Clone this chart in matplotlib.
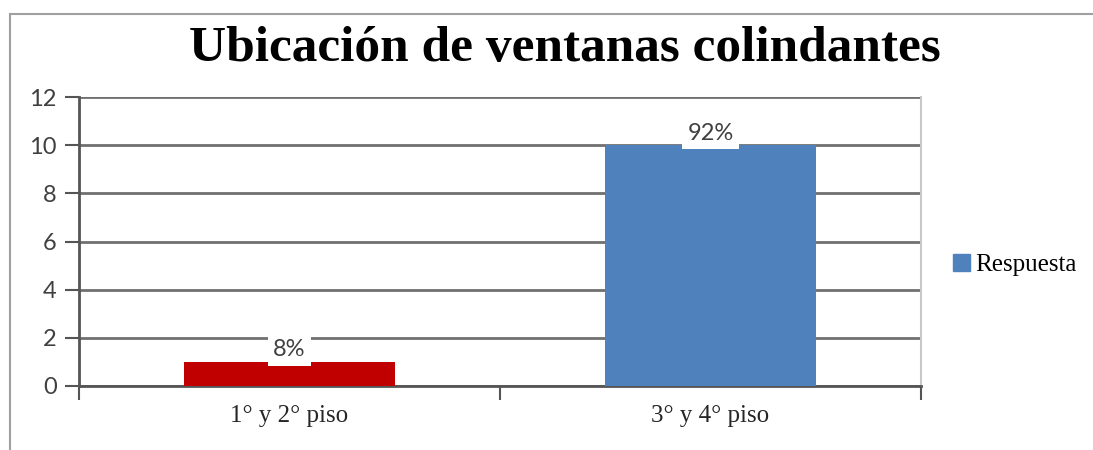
import matplotlib.pyplot as plt
from matplotlib.patches import Rectangle

# datos
categorias = ['1° y 2° piso', '3° y 4° piso']
respuesta = [1, 10]
porcentajes = ['8%', '92%']
colores = ['#C00000', '#4F81BD']
y_ticks = [0, 2, 4, 6, 8, 10, 12]

grid_color = '#707070'

fig = plt.figure(figsize=(10.93, 4.5), dpi=100)

# marco exterior del gráfico (recortado a la derecha y abajo)
fig.patches.append(Rectangle((10 / 1093, -0.1), 1.2, 1.1 - 14 / 450,
                             transform=fig.transFigure, fill=False,
                             edgecolor='#a0a0a0', linewidth=1.5))

ax = fig.add_axes([79 / 1093, 1 - 386 / 450, 842 / 1093, 289 / 450])

x = range(len(categorias))
bars = ax.bar(x, respuesta, width=0.5, color=colores, zorder=3)

ax.set_xlim(-0.5, 1.5)
ax.set_ylim(0, 12)
ax.set_yticks(y_ticks)
ax.set_yticklabels([str(t) for t in y_ticks], fontfamily='Lato', fontsize=17, color='#404040')

# ticks de x en los límites de las categorías
ax.set_xticks([-0.5, 0.5, 1.5])
ax.set_xticklabels([])
ax.set_xticks(list(x), minor=True)
ax.set_xticklabels(categorias, minor=True, fontfamily='Liberation Serif', fontsize=18, color='#262626')
ax.tick_params(axis='x', which='minor', length=0, pad=14)
ax.tick_params(axis='x', which='major', length=10, width=1.5, color='#555555', direction='out')
ax.tick_params(axis='y', length=10, width=1.5, color='#555555', direction='out', pad=6)

ax.yaxis.grid(True, color=grid_color, linewidth=2, zorder=1)
ax.set_axisbelow(True)

for s in ['left', 'bottom']:
    ax.spines[s].set_color('#555555')
    ax.spines[s].set_linewidth(2)
ax.spines['top'].set_visible(False)
ax.spines['right'].set_color('#c8c8c8')
ax.spines['right'].set_linewidth(1.5)

# etiquetas de porcentaje con caja blanca
for b, p in zip(bars, porcentajes):
    ax.text(b.get_x() + b.get_width() / 2, b.get_height() + 0.5, p,
            ha='center', va='center', fontfamily='Lato', fontsize=17, color='#404040',
            bbox=dict(facecolor='white', edgecolor='none', pad=4), zorder=4)

fig.text(565 / 1093, 1 - 49 / 450, 'Ubicación de ventanas colindantes',
         ha='center', va='center', fontfamily='Liberation Serif',
         fontweight='bold', fontsize=37, color='black')

# leyenda
handle = Rectangle((0, 0), 1, 1, color='#4F81BD')
fig.legend([handle], ['Respuesta'], loc='center left',
           bbox_to_anchor=(930 / 1093, 1 - 265 / 450), frameon=False,
           prop={'family': 'Liberation Serif', 'size': 18},
           handlelength=0.7, handleheight=0.7, handletextpad=0.2)

fig.savefig('out.png', dpi=100)
